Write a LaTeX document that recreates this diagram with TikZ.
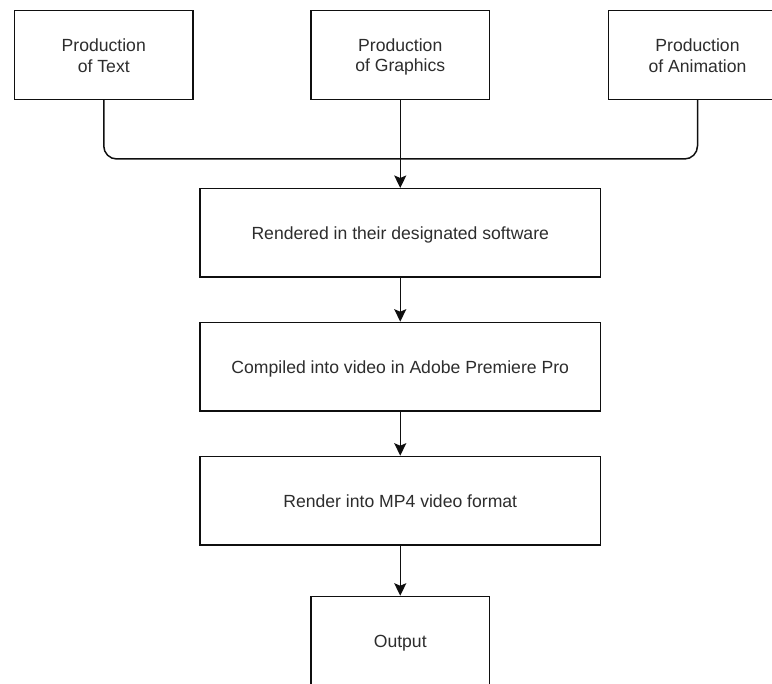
\documentclass[tikz,border=0pt]{standalone}
\usepackage{fontspec}
\setmainfont{Liberation Sans}
\usetikzlibrary{arrows.meta}
\definecolor{txt}{RGB}{45,45,45}
\definecolor{ln}{RGB}{15,15,15}
\newcommand{\mystr}{\rule[-3pt]{0pt}{20pt}}
\begin{document}
\begin{tikzpicture}[x=1pt,y=-1pt,
  box/.style={draw=ln, line width=1.5pt, fill=white, align=center, inner sep=0pt,
    text=txt, font=\fontsize{17.6}{20.5}\selectfont},
  smallbox/.style={box, minimum width=178.5pt, minimum height=89pt},
  widebox/.style={box, minimum width=400.5pt, minimum height=88.5pt},
  conn/.style={draw=ln, line width=1.5pt},
  arr/.style={conn, -{Stealth[length=12.5pt,width=12pt,inset=2.5pt]}}]
\useasboundingbox (0,0) rectangle (772,684);
\node[smallbox] (text) at (103.75,54.8) {Production\mystr\\of Text\mystr};
\node[smallbox] (gfx) at (400.25,54.8) {Production\mystr\\of Graphics\mystr};
\node[smallbox] (anim) at (697.5,54.8) {Production\mystr\\of Animation\mystr};
\node[widebox] (rend) at (400.25,233) {Rendered in their designated software\mystr};
\node[widebox] (comp) at (400.25,366.7) {Compiled into video in Adobe Premiere Pro\mystr};
\node[widebox] (mp4) at (400.25,500.7) {Render into MP4 video format\mystr};
\node[smallbox] (out) at (400.25,641) {Output\mystr};
\coordinate (join) at (400.25,159);
\draw[conn, rounded corners=13pt] (text.south) |- (join);
\draw[conn, rounded corners=13pt] (anim.south) |- (join);
\draw[arr] (gfx.south) -- (rend.north);
\draw[arr] (rend.south) -- (comp.north);
\draw[arr] (comp.south) -- (mp4.north);
\draw[arr] (mp4.south) -- (out.north);
\end{tikzpicture}
\end{document}
